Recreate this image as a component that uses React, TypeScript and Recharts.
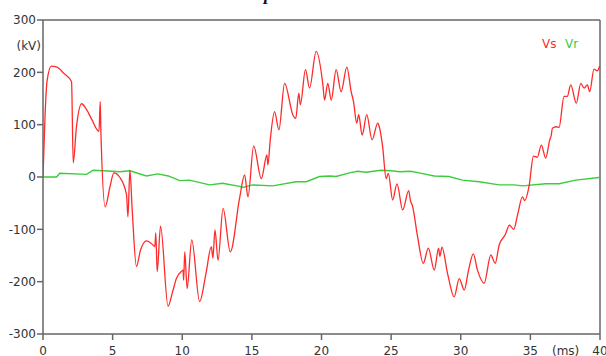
import { LineChart, Line, XAxis, YAxis, ReferenceLine } from 'recharts'

// sending end voltage Vs (kV) over time (ms)
const vsTime = [
  0, 0.15, 0.3, 0.6, 1.0, 1.5, 2.05, 2.17, 2.4, 2.77, 3.1, 3.5, 4.02, 4.11, 4.16, 4.47, 4.8, 5.09, 5.5, 6.0,
  6.1, 6.24, 6.4, 6.71, 7.0, 7.43, 7.9, 8.03, 8.1, 8.2, 8.44, 8.98, 9.3, 9.58, 9.95, 10.06, 10.1, 10.18, 10.35, 10.68,
  11.25, 11.7, 12.09, 12.2, 12.35, 12.57, 12.93, 13.45, 14.12, 14.48, 14.72, 15.13, 15.68, 16.08, 16.15, 16.32, 16.63, 16.94, 17.35, 17.94,
  18.15, 18.37, 18.48, 18.85, 19.14, 19.62, 20.1, 20.22, 20.45, 20.7, 21.05, 21.41, 21.82, 22.13, 22.3, 22.53, 22.67, 22.92, 23.25, 23.63,
  24.04, 24.15, 24.39, 24.64, 24.8, 25.11, 25.42, 25.83, 26.26, 26.38, 26.55, 26.9, 27.31, 27.67, 28.1, 28.41, 28.5, 28.65, 29.05, 29.53,
  29.89, 30.25, 30.56, 30.9, 31.2, 31.68, 32.16, 32.47, 32.76, 33.2, 33.5, 33.8, 34.1, 34.43, 34.6, 34.91, 35.22, 35.5, 35.79, 36.1,
  36.39, 36.5, 36.58, 36.87, 37.06, 37.42, 37.65, 37.9, 38.3, 38.62, 38.86, 39.1, 39.26, 39.57, 39.8, 39.98,
]
const vsValue = [
  0, 120, 185, 212, 210, 198, 182, 27, 95, 140, 130, 110, 87, 144, 84, -57, -20, 8, 0, -34,
  -76, 13, -60, -171, -140, -122, -130, -133, -107, -181, -94, -247, -220, -194, -180, -178, -197, -143, -213, -120,
  -238, -185, -133, -155, -101, -159, -60, -143, -40, 4, -38, 59, -3, 42, 23, 71, 125, 90, 179, 119,
  112, 160, 138, 205, 170, 240, 176, 147, 179, 147, 205, 163, 210, 163, 144, 103, 119, 80, 119, 71,
  103, 96, 58, -3, 7, -44, -13, -63, -26, -44, -57, -114, -165, -136, -178, -136, -152, -134, -184, -229,
  -194, -216, -178, -147, -178, -203, -149, -165, -130, -110, -92, -100, -70, -38, -45, -17, 40, 38, 61, 36,
  71, 80, 93, 96, 95, 154, 154, 176, 141, 179, 170, 176, 163, 206, 203, 212,
]

// receiving end voltage Vr (kV)
const vrTime = [
  0, 0.98, 1.2, 3.13, 3.6, 5.0, 5.5, 6.24, 7.43, 8.24, 9.0, 9.82, 10.5, 11.97, 12.9, 14.12, 14.36, 15.05, 16.49, 18.18,
  18.9, 19.86, 20.6, 21.05, 22.0, 22.6, 23.2, 24.28, 25.0, 25.6, 26.4, 27.0, 28.1, 29.15, 30.13, 31.33, 32.76, 33.83, 34.43, 36.1,
  37.06, 38.25, 39.93,
]
const vrValue = [
  0, 0, 7, 5, 13, 11, 10, 12, 2, 6, 2, -7, -6, -15, -12, -18, -20, -15, -17, -9,
  -9, 1, 2, 1, 8, 11, 9, 13, 12, 10, 11, 8, 2, 1, -6, -9, -15, -15, -17, -13,
  -13, -6, -1,
]

const xTicks = [0, 5, 10, 15, 20, 25, 30, 35, 40]
const yTicks = [-300, -200, -100, 0, 100, 200, 300]

const vsData = vsTime.map((t, i) => ({ t, v: vsValue[i] }))
const vrData = vrTime.map((t, i) => ({ t, v: vrValue[i] }))

const AXIS = '#666'
const tickStyle = { fontSize: 12, fill: '#333', fontFamily: 'DejaVu Sans' }
const font = 'DejaVu Sans'

export default function App() {
  return (
    <div style={{ position: 'absolute', left: 0, top: 0, width: 606, height: 356, background: '#fff' }}>
      <LineChart width={606} height={356} margin={{ top: 20, right: 6, left: 0, bottom: 0 }}>
        <XAxis
          dataKey="t"
          type="number"
          domain={[0, 40]}
          ticks={xTicks}
          interval={0}
          height={22}
          allowDataOverflow
          stroke={AXIS}
          strokeWidth={1.5}
          tickSize={6}
          tickMargin={6}
          tick={tickStyle}
        />
        <YAxis
          type="number"
          domain={[-300, 300]}
          ticks={yTicks}
          interval={0}
          width={43}
          allowDataOverflow
          stroke={AXIS}
          strokeWidth={1.5}
          tickSize={6}
          tickMargin={1}
          tick={tickStyle}
        />
        <ReferenceLine y={300} stroke={AXIS} strokeWidth={1.5} />
        <ReferenceLine x={40} stroke={AXIS} strokeWidth={1.5} />
        <Line data={vrData} dataKey="v" type="linear" stroke="#3ccc3c" strokeWidth={1.4} dot={false} isAnimationActive={false} />
        <Line data={vsData} dataKey="v" type="monotone" stroke="#ff2a2a" strokeWidth={1.3} dot={false} isAnimationActive={false} />
      </LineChart>
      <svg width={606} height={356} style={{ position: 'absolute', left: 0, top: 0, pointerEvents: 'none' }}>
        <text x={264} y={0} fontFamily="Liberation Serif" fontWeight="bold" fontStyle="italic" fontSize={18} fill="#111">p</text>
        <text x={41} y={50} textAnchor="end" fontFamily={font} fontSize={12} fill="#333">(kV)</text>
        <text x={552} y={355} fontFamily={font} fontSize={12} fill="#333">(ms)</text>
        <text x={542} y={48} fontFamily={font} fontSize={12} fill="#ff2a2a">Vs</text>
        <text x={565} y={48} fontFamily={font} fontSize={12} fill="#3ccc3c">Vr</text>
      </svg>
    </div>
  )
}
